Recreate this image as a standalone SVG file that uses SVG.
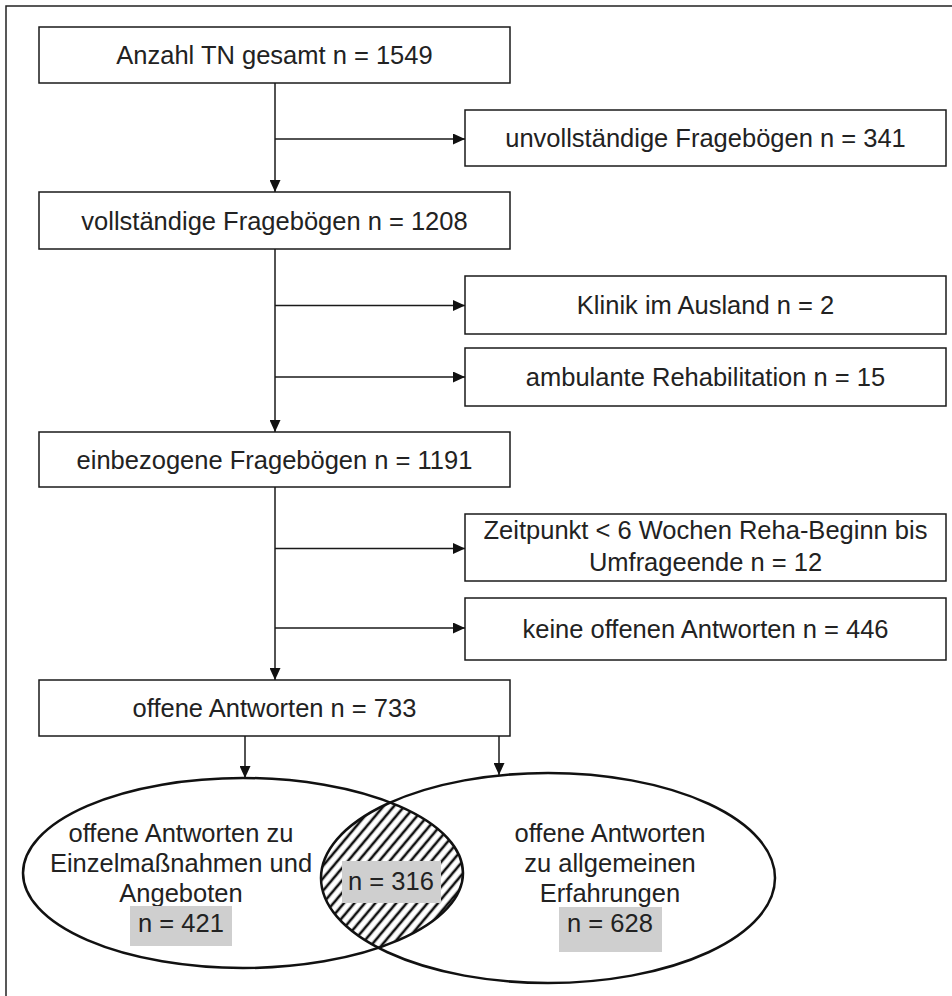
<svg xmlns="http://www.w3.org/2000/svg" width="952" height="996" viewBox="0 0 952 996">
<style>
  .box { fill: #fff; stroke: #1a1a1a; stroke-width: 1.5; }
  .t { font-family: "Liberation Sans", Arial, sans-serif; font-size: 25.5px; fill: #222; text-anchor: middle; }
  .ln { fill: none; stroke: #1a1a1a; stroke-width: 1.5; }
  .ell { fill: none; stroke: #111; stroke-width: 2.5; }
  .gray { fill: #cfcfcf; }
</style>
<defs>
  <marker id="ah" markerWidth="12" markerHeight="11" refX="12" refY="5.5" orient="auto" markerUnits="userSpaceOnUse">
    <path d="M0,0 L12,5.5 L0,11 Z" fill="#111"/>
  </marker>
  <pattern id="hatch" width="8" height="8" patternUnits="userSpaceOnUse" patternTransform="rotate(40)">
    <rect width="8" height="8" fill="#fff"/>
    <line x1="4" y1="0" x2="4" y2="8" stroke="#111" stroke-width="2.6"/>
  </pattern>
  <clipPath id="clipLeft">
    <ellipse cx="243" cy="873" rx="220" ry="95"/>
  </clipPath>
</defs>
<rect width="952" height="996" fill="#fff"/>
<path d="M6,996 V6 H952" fill="none" stroke="#222" stroke-width="1.5"/>

<g id="connectors">
  <line class="ln" x1="275" y1="83" x2="275" y2="192" marker-end="url(#ah)"/>
  <line class="ln" x1="275" y1="139" x2="465" y2="139" marker-end="url(#ah)"/>
  <line class="ln" x1="275" y1="249" x2="275" y2="432" marker-end="url(#ah)"/>
  <line class="ln" x1="275" y1="305.5" x2="465" y2="305.5" marker-end="url(#ah)"/>
  <line class="ln" x1="275" y1="377" x2="465" y2="377" marker-end="url(#ah)"/>
  <line class="ln" x1="275" y1="487" x2="275" y2="680" marker-end="url(#ah)"/>
  <line class="ln" x1="275" y1="548.5" x2="465" y2="548.5" marker-end="url(#ah)"/>
  <line class="ln" x1="275" y1="628" x2="465" y2="628" marker-end="url(#ah)"/>
  <line class="ln" x1="245" y1="736" x2="245" y2="778" marker-end="url(#ah)"/>
  <line class="ln" x1="499" y1="736" x2="499" y2="775" marker-end="url(#ah)"/>
</g>

<g id="n1">
  <rect class="box" x="39" y="27" width="471" height="56"/>
  <text class="t" x="274.5" y="64">Anzahl TN gesamt n = 1549</text>
</g>
<g id="n2">
  <rect class="box" x="465" y="110" width="481" height="56"/>
  <text class="t" x="705.5" y="147">unvollständige Fragebögen n = 341</text>
</g>
<g id="n3">
  <rect class="box" x="39" y="192" width="471" height="57"/>
  <text class="t" x="274.5" y="229.5">vollständige Fragebögen n = 1208</text>
</g>
<g id="n4">
  <rect class="box" x="465" y="276" width="481" height="58"/>
  <text class="t" x="705.5" y="314">Klinik im Ausland n = 2</text>
</g>
<g id="n5">
  <rect class="box" x="465" y="348" width="481" height="58"/>
  <text class="t" x="705.5" y="386">ambulante Rehabilitation n = 15</text>
</g>
<g id="n6">
  <rect class="box" x="39" y="432" width="471" height="55"/>
  <text class="t" x="274.5" y="468.5">einbezogene Fragebögen n = 1191</text>
</g>
<g id="n7">
  <rect class="box" x="465" y="514" width="481" height="67"/>
  <text class="t" x="705.5" y="539">Zeitpunkt &lt; 6 Wochen Reha-Beginn bis</text>
  <text class="t" x="705.5" y="571">Umfrageende n = 12</text>
</g>
<g id="n8">
  <rect class="box" x="465" y="598" width="481" height="62"/>
  <text class="t" x="705.5" y="638">keine offenen Antworten n = 446</text>
</g>
<g id="n9">
  <rect class="box" x="39" y="680" width="471" height="56"/>
  <text class="t" x="274.5" y="717">offene Antworten n = 733</text>
</g>

<g id="venn">
  <ellipse cx="548" cy="878" rx="227" ry="105" fill="url(#hatch)" clip-path="url(#clipLeft)"/>
  <ellipse class="ell" cx="243" cy="873" rx="220" ry="95"/>
  <ellipse class="ell" cx="548" cy="878" rx="227" ry="105"/>
</g>

<g id="left-set">
  <text class="t" x="181" y="842">offene Antworten zu</text>
  <text class="t" x="181" y="872">Einzelmaßnahmen und</text>
  <text class="t" x="181" y="902">Angeboten</text>
  <rect class="gray" x="130" y="906" width="102" height="40"/>
  <text class="t" x="181" y="932">n = 421</text>
</g>
<g id="intersection">
  <rect class="gray" x="342" y="861" width="99" height="42"/>
  <text class="t" x="391" y="890">n = 316</text>
</g>
<g id="right-set">
  <text class="t" x="610" y="842">offene Antworten</text>
  <text class="t" x="610" y="872">zu allgemeinen</text>
  <text class="t" x="610" y="902">Erfahrungen</text>
  <rect class="gray" x="559" y="907" width="103" height="45"/>
  <text class="t" x="610" y="932">n = 628</text>
</g>
</svg>
